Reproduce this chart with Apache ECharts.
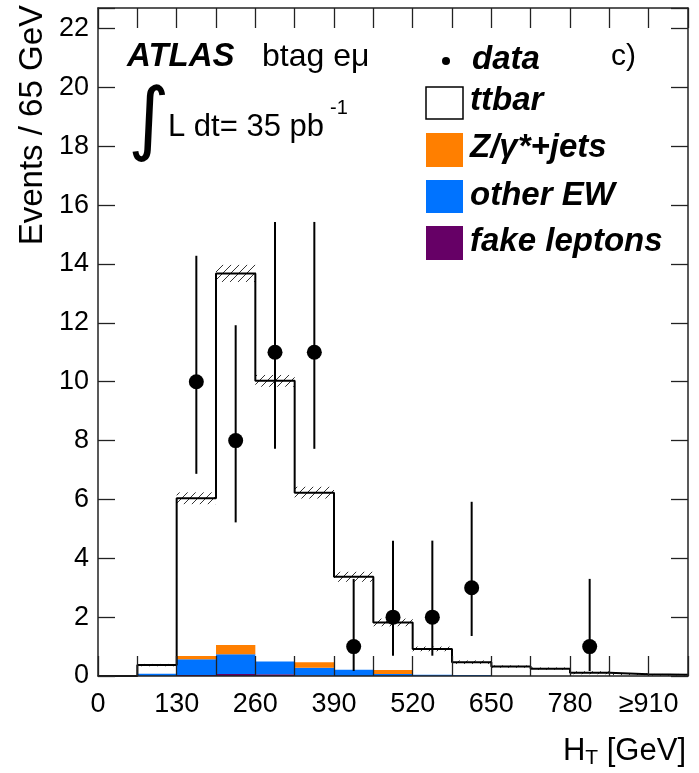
<!DOCTYPE html>
<html>
<head>
<meta charset="utf-8">
<script src="https://cdn.jsdelivr.net/npm/echarts@6/dist/echarts.min.js"></script>
<style>
html,body{margin:0;padding:0;background:#fff;}
#c{width:699px;height:773px;}
</style>
</head>
<body>
<div id="c"></div>
<script>
// ---- data ----
const binLo = [0, 65, 130, 195, 260, 325, 390, 455, 520, 585, 650, 715, 780, 845, 910];
const binWidth = 65;
const ttbar   = [0, 0.29, 5.36, 12.63, 9.54, 5.76, 3.16, 1.62, 0.88, 0.44, 0.32, 0.25, 0.11, 0.06, 0.04];
const zjets   = [0, 0, 0.11, 0.31, 0, 0.19, 0, 0.13, 0, 0, 0, 0, 0, 0, 0];
const otherEW = [0, 0.08, 0.54, 0.67, 0.43, 0.26, 0.21, 0.07, 0.04, 0.03, 0, 0, 0, 0, 0];
const fake    = [0, 0, 0.03, 0.07, 0.06, 0.02, 0, 0, 0, 0, 0, 0, 0, 0, 0];
const uncert  = [0, 0.04, 0.20, 0.29, 0.20, 0.20, 0.17, 0.13, 0.08, 0.06, 0.04, 0.04, 0.05, 0.03, 0.03];

const dataX  = [162.5, 227.5, 292.5, 357.5, 422.5, 487.5, 552.5, 617.5, 812.5];
const dataY  = [10, 8, 11, 11, 1, 2, 2, 3, 1];
const dataLo = [6.87, 5.22, 7.72, 7.72, 0.17, 0.69, 0.69, 1.36, 0.17];
const dataHi = [14.28, 11.92, 15.43, 15.43, 3.30, 4.60, 4.60, 5.92, 3.30];

const xTicks = [0, 130, 260, 390, 520, 650, 780, 910];
const yTicks = [0, 2, 4, 6, 8, 10, 12, 14, 16, 18, 20, 22];

const COL_Z = '#ff7f00', COL_EW = '#0073ff', COL_FAKE = '#660066';
const FONT = '"Liberation Sans", Arial, Helvetica, sans-serif';

// ---- derived ----
const totals = binLo.map((_, i) => ttbar[i] + zjets[i] + otherEW[i] + fake[i]);
const stackRows = binLo.map((lo, i) => [lo, lo + binWidth, fake[i], otherEW[i], zjets[i]]);
const bandRows = binLo.map((lo, i) => [lo, lo + binWidth, totals[i] - uncert[i], totals[i] + uncert[i]]);
const outline = [[0, 0]];
binLo.forEach((lo, i) => { outline.push([lo, totals[i]]); outline.push([lo + binWidth, totals[i]]); });
const errRows = dataX.map((x, i) => [x, dataLo[i], dataHi[i]]);
const points = dataX.map((x, i) => [x, dataY[i]]);

const chart = echarts.init(document.getElementById('c'), null, {renderer: 'canvas'});

const axisLineStyle = {color: '#222', width: 1.5};
const tickStyle = {color: '#222', width: 1.3};

function hatchLines(x0, y0, x1, y1, step) {
  const els = [];
  const cStart = Math.ceil((x0 + y0) / step) * step;
  for (let c = cStart; c <= x1 + y1; c += step) {
    const lo = Math.max(x0, c - y1), hi = Math.min(x1, c - y0);
    if (hi > lo) {
      els.push({type: 'line', shape: {x1: lo, y1: c - lo, x2: hi, y2: c - hi},
        style: {stroke: '#333', lineWidth: 1}});
    }
  }
  return els;
}

const option = {
  animation: false,
  backgroundColor: '#fff',
  grid: {left: 98, right: 11, top: 8, bottom: 97, show: false},
  xAxis: [{
    type: 'value', min: 0, max: 975, interval: 65, z: 10,
    axisLine: {show: true, lineStyle: axisLineStyle, onZero: false},
    axisTick: {show: true, inside: true, length: 20, lineStyle: tickStyle},
    splitLine: {show: false},
    axisLabel: {
      margin: 15, color: '#000', fontSize: 27, fontFamily: FONT,
      formatter: v => (xTicks.indexOf(v) >= 0 ? (v === 910 ? '\u2265910' : String(v)) : '')
    }
  }, {
    type: 'value', min: 0, max: 975, interval: 65, position: 'top', z: 10,
    axisLine: {show: true, lineStyle: axisLineStyle, onZero: false},
    axisTick: {show: true, inside: true, length: 20, lineStyle: tickStyle},
    splitLine: {show: false}, axisLabel: {show: false}
  }],
  yAxis: [{
    type: 'value', min: 0, max: 22.7, interval: 2, z: 10,
    axisLine: {show: true, lineStyle: axisLineStyle, onZero: false},
    axisTick: {show: true, inside: true, length: 17, lineStyle: tickStyle},
    splitLine: {show: false},
    axisLabel: {
      margin: 9, color: '#000', fontSize: 27, fontFamily: FONT,
      formatter: v => (yTicks.indexOf(v) >= 0 ? String(v) : '')
    }
  }, {
    type: 'value', min: 0, max: 22.7, interval: 2, position: 'right', z: 10,
    axisLine: {show: true, lineStyle: axisLineStyle, onZero: false},
    axisTick: {show: true, inside: true, length: 17, lineStyle: tickStyle},
    splitLine: {show: false}, axisLabel: {show: false}
  }],
  series: [
    {
      type: 'custom', name: 'stack', z: 2,
      data: stackRows,
      renderItem: function (params, api) {
        const x0 = api.value(0), x1 = api.value(1);
        const vals = [api.value(2), api.value(3), api.value(4)];
        const cols = [COL_FAKE, COL_EW, COL_Z];
        const children = [];
        let base = 0;
        for (let k = 0; k < 3; k++) {
          if (vals[k] > 0) {
            const p0 = api.coord([x0, base + vals[k]]);
            const p1 = api.coord([x1, base]);
            children.push({type: 'rect', shape: {x: p0[0], y: p0[1], width: p1[0] - p0[0], height: p1[1] - p0[1]},
              style: {fill: cols[k]}});
          }
          base += vals[k];
        }
        return {type: 'group', children: children};
      }
    },
    {
      type: 'custom', name: 'band', z: 3,
      data: bandRows,
      renderItem: function (params, api) {
        if (api.value(3) - api.value(2) <= 0) return {type: 'group', children: []};
        const p0 = api.coord([api.value(0), api.value(3)]);
        const p1 = api.coord([api.value(1), Math.max(0, api.value(2))]);
        return {type: 'group', children: hatchLines(p0[0], p0[1], p1[0], p1[1], 8)};
      }
    },
    {
      type: 'line', name: 'ttbar', z: 4, data: outline, symbol: 'none',
      lineStyle: {color: '#000', width: 2}
    },
    {
      type: 'custom', name: 'dataErr', z: 5,
      data: errRows,
      renderItem: function (params, api) {
        const a = api.coord([api.value(0), api.value(1)]);
        const b = api.coord([api.value(0), api.value(2)]);
        return {type: 'line', shape: {x1: a[0], y1: a[1], x2: b[0], y2: b[1]},
          style: {stroke: '#000', lineWidth: 2}};
      }
    },
    {
      type: 'scatter', name: 'data', z: 6, data: points, symbol: 'circle', symbolSize: 15,
      itemStyle: {color: '#000', opacity: 1}
    }
  ],
  graphic: [
    {type: 'text', x: 33, y: 5, rotation: Math.PI / 2,
      style: {text: 'Events / 65 GeV', font: '33px ' + FONT, fill: '#000', align: 'right', verticalAlign: 'middle'}},
    {type: 'text', x: 686, y: 751,
      style: {text: '{a|H}{s|T}{a| [GeV]}', align: 'right', verticalAlign: 'middle', fill: '#000',
        rich: {a: {fontSize: 31, fontFamily: FONT, color: '#000'},
               s: {fontSize: 21, fontFamily: FONT, color: '#000', padding: [14, 0, 0, 0]}}}},
    {type: 'text', x: 127, y: 57,
      style: {text: 'ATLAS', font: 'italic bold 33px ' + FONT, fill: '#000', align: 'left', verticalAlign: 'middle'}},
    {type: 'text', x: 262, y: 57,
      style: {text: 'btag e\u03bc', font: '32px ' + FONT, fill: '#000', align: 'left', verticalAlign: 'middle'}},
    {type: 'text', x: 128, y: 124,
      style: {text: '\u222b', font: '80px "DejaVu Sans", sans-serif', fill: '#000', align: 'left', verticalAlign: 'middle'}},
    {type: 'text', x: 168, y: 127,
      style: {text: 'L dt= 35 pb', font: '31px ' + FONT, fill: '#000', align: 'left', verticalAlign: 'middle'}},
    {type: 'text', x: 330, y: 108,
      style: {text: '-1', font: '20px ' + FONT, fill: '#000', align: 'left', verticalAlign: 'middle'}},
    {type: 'circle', shape: {cx: 446, cy: 61, r: 4}, style: {fill: '#000'}},
    {type: 'text', x: 472, y: 60,
      style: {text: 'data', font: 'italic bold 33px ' + FONT, fill: '#000', align: 'left', verticalAlign: 'middle'}},
    {type: 'text', x: 611, y: 57,
      style: {text: 'c)', font: '30px ' + FONT, fill: '#000', align: 'left', verticalAlign: 'middle'}},
    {type: 'rect', shape: {x: 426, y: 87, width: 37, height: 32}, style: {fill: '#fff', stroke: '#000', lineWidth: 1.5}},
    {type: 'text', x: 470, y: 101,
      style: {text: 'ttbar', font: 'italic bold 33px ' + FONT, fill: '#000', align: 'left', verticalAlign: 'middle'}},
    {type: 'rect', shape: {x: 426, y: 133, width: 37, height: 34}, style: {fill: COL_Z}},
    {type: 'text', x: 470, y: 148,
      style: {text: 'Z/\u03b3*+jets', font: 'italic bold 33px ' + FONT, fill: '#000', align: 'left', verticalAlign: 'middle'}},
    {type: 'rect', shape: {x: 426, y: 180, width: 37, height: 33}, style: {fill: COL_EW}},
    {type: 'text', x: 470, y: 196,
      style: {text: 'other EW', font: 'italic bold 33px ' + FONT, fill: '#000', align: 'left', verticalAlign: 'middle'}},
    {type: 'rect', shape: {x: 426, y: 226, width: 37, height: 34}, style: {fill: COL_FAKE}},
    {type: 'text', x: 470, y: 242,
      style: {text: 'fake leptons', font: 'italic bold 33px ' + FONT, fill: '#000', align: 'left', verticalAlign: 'middle'}}
  ]
};
chart.setOption(option);
</script>
</body>
</html>
